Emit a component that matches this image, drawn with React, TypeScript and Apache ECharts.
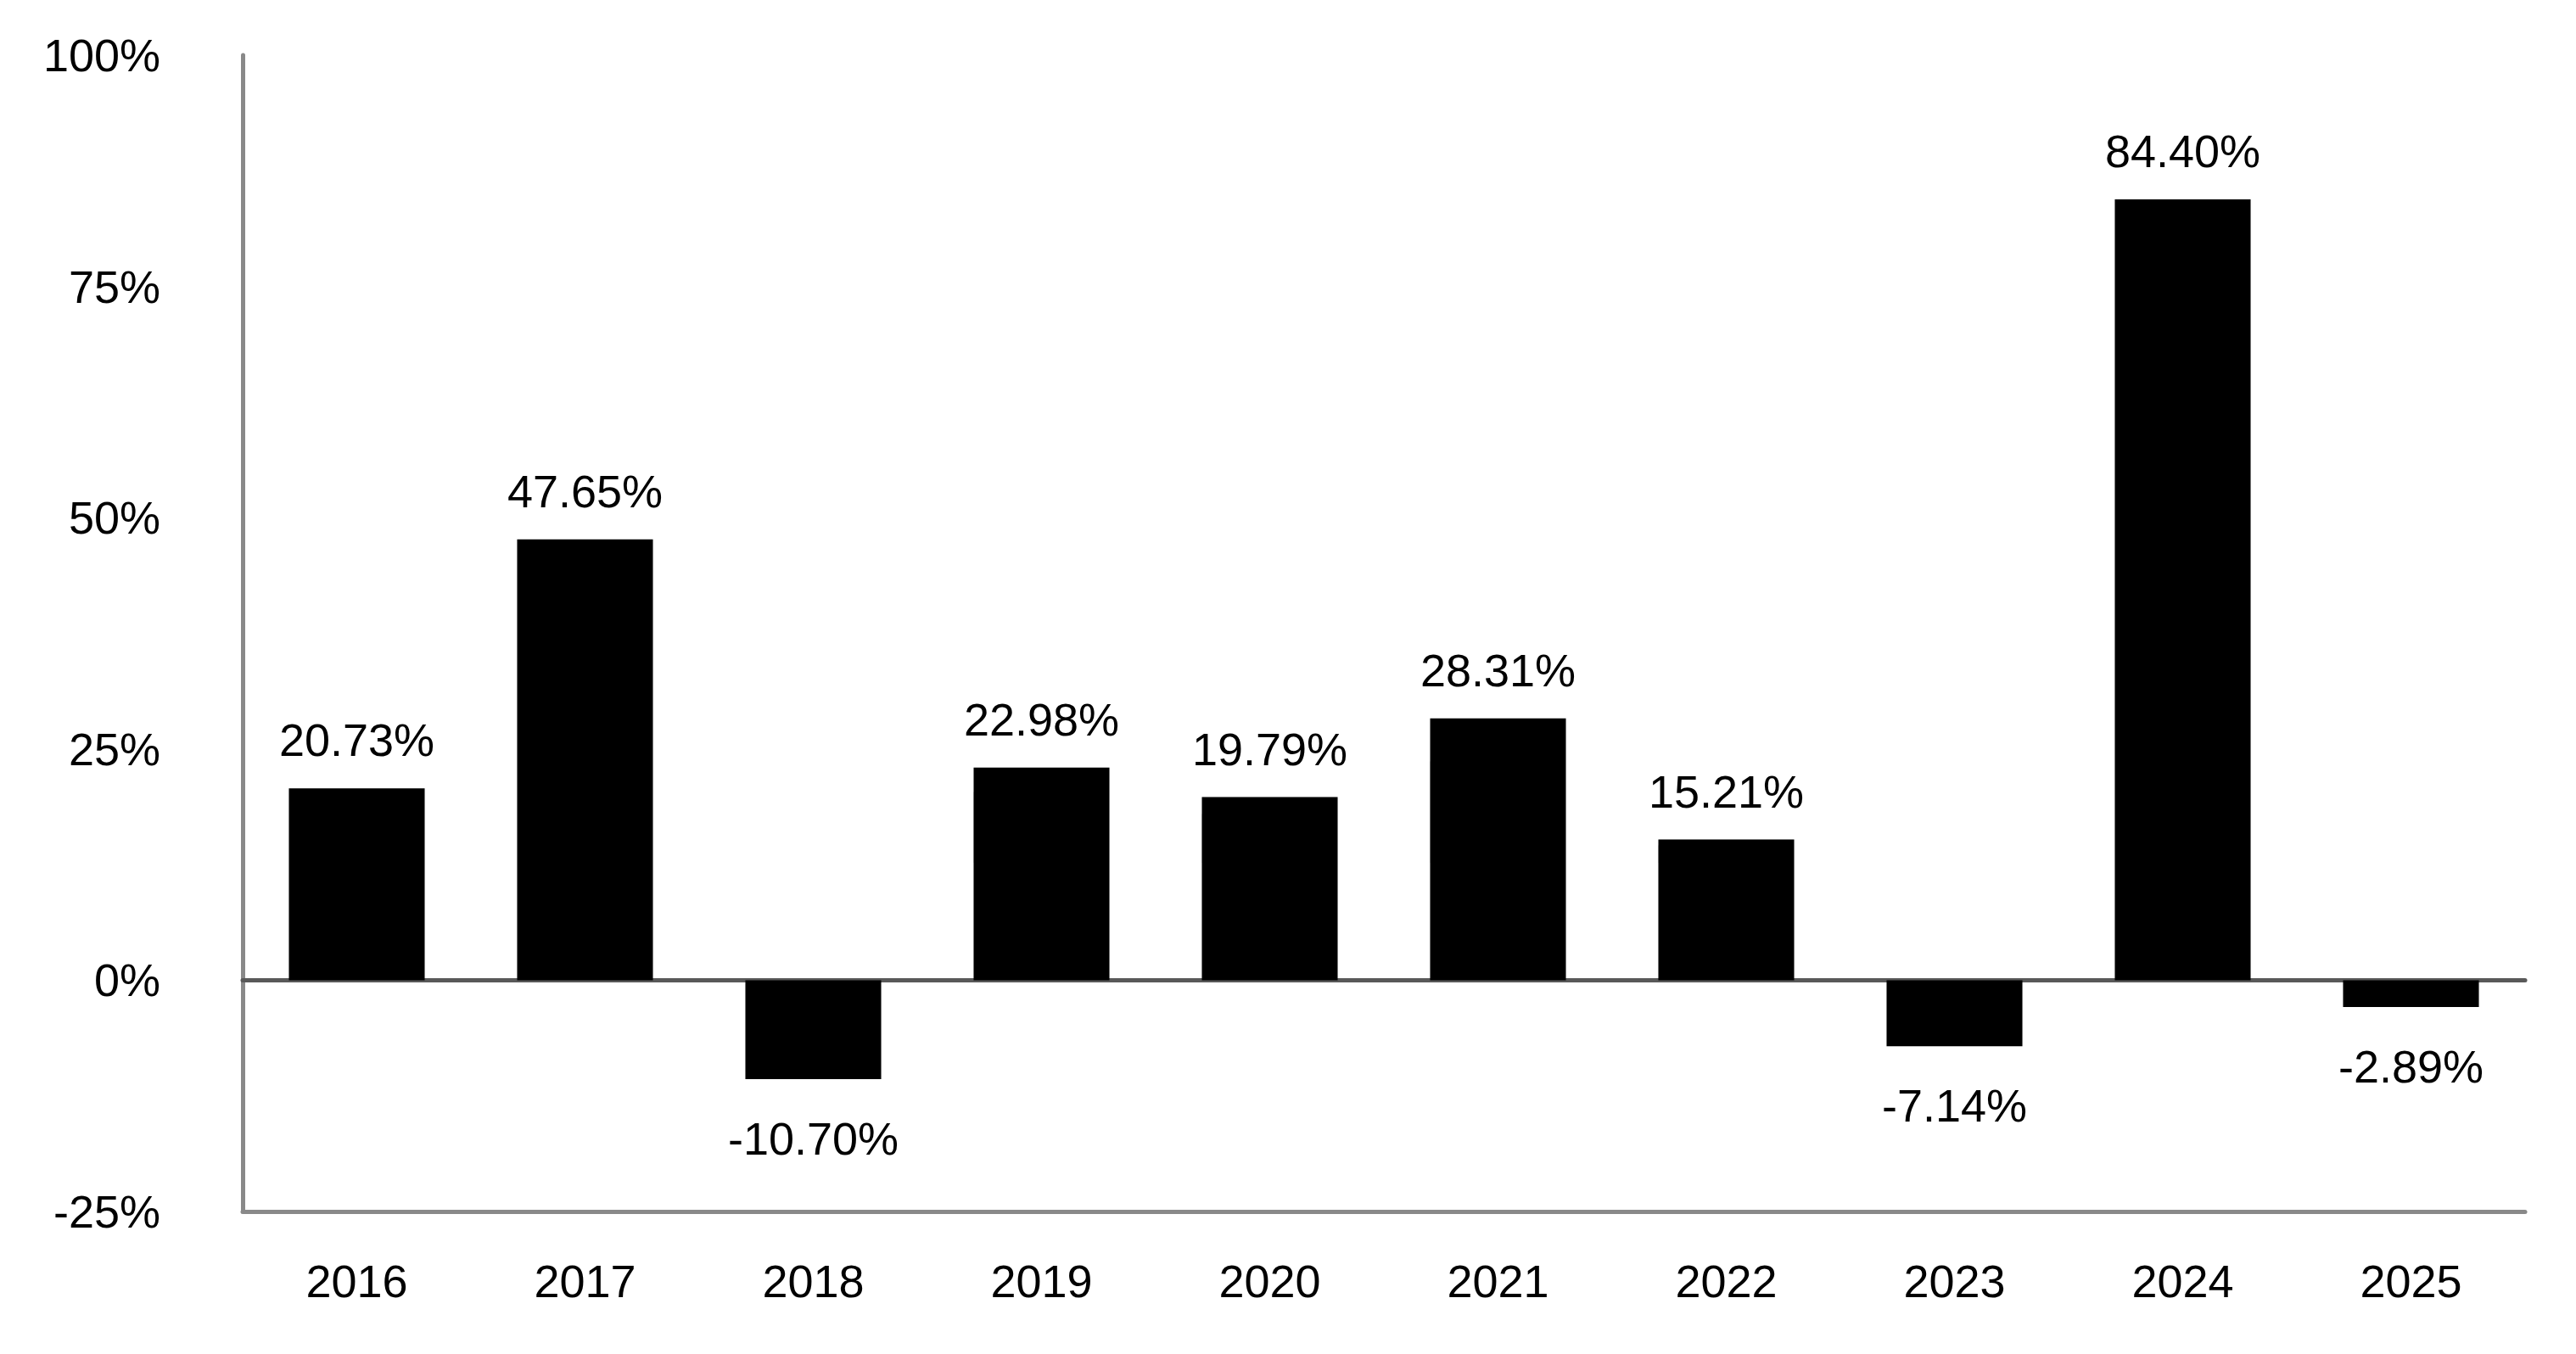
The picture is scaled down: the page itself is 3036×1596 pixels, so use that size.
import React, { useEffect, useRef } from 'react';
import * as echarts from 'echarts';

const years = ['2016', '2017', '2018', '2019', '2020', '2021', '2022', '2023', '2024', '2025'];
const returns = [20.73, 47.65, -10.7, 22.98, 19.79, 28.31, 15.21, -7.14, 84.4, -2.89];
const yTicks = { min: -25, max: 100, step: 25 };

const FONT = 'Liberation Sans, Arial, sans-serif';

const App: React.FC = () => {
  const chartRef = useRef<HTMLDivElement>(null);

  useEffect(() => {
    if (!chartRef.current) return;
    const chart = echarts.init(chartRef.current, undefined, { renderer: 'svg' });

    const option: echarts.EChartsOption = {
      animation: false,
      backgroundColor: '#ffffff',
      grid: { left: 286, right: 60, top: 65, bottom: 168, containLabel: false },
      xAxis: [
        {
          // zero line
          type: 'category',
          position: 'bottom',
          data: years,
          axisLine: { onZero: true, lineStyle: { color: '#595959', width: 5 } },
          axisTick: { show: false },
          axisLabel: { show: false },
        },
        {
          type: 'category',
          position: 'bottom',
          data: years,
          axisLine: { onZero: false, lineStyle: { color: '#898989', width: 5 } },
          axisTick: { show: false },
          axisLabel: {
            color: '#000',
            fontSize: 54,
            fontFamily: FONT,
            margin: 55,
          },
        },
      ],
      yAxis: {
        type: 'value',
        min: yTicks.min,
        max: yTicks.max,
        interval: yTicks.step,
        axisLine: { show: true, onZero: false, lineStyle: { color: '#898989', width: 5 } },
        axisTick: { show: false },
        splitLine: { show: false },
        axisLabel: {
          color: '#000',
          fontSize: 54,
          fontFamily: FONT,
          margin: 97,
          formatter: '{value}%',
        },
      },
      series: [
        {
          type: 'bar',
          xAxisIndex: 0,
          barWidth: '59.5%',
          itemStyle: { color: '#000' },
          data: returns.map((v) => ({
            value: v,
            label: {
              show: true,
              position: v >= 0 ? 'top' : 'bottom',
              distance: v >= 0 ? 30 : 43,
              color: '#000',
              fontSize: 54,
              fontFamily: FONT,
              formatter: () => `${v.toFixed(2)}%`,
            },
          })),
        },
      ],
    };

    chart.setOption(option);

    return () => {
      chart.dispose();
    };
  }, []);

  return (
    <div
      ref={chartRef}
      style={{ position: 'fixed', left: 0, top: 0, width: '100vw', height: '100vh' }}
    />
  );
};

export default App;
